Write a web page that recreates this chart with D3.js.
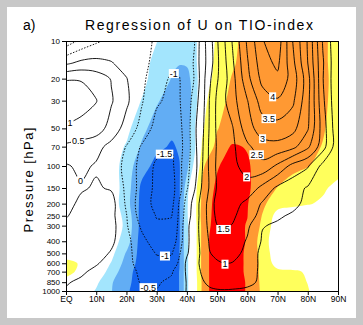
<!DOCTYPE html>
<html>
<head>
<meta charset="utf-8">
<title>Regression of U on TIO-index</title>
<script src="https://cdn.jsdelivr.net/npm/d3@7/dist/d3.min.js"></script>
<style>
  body { margin: 0; background: #fff; }
  svg text { font-family: "Liberation Sans", Arial, sans-serif; fill: #000; }
</style>
</head>
<body>
<svg id="chart" width="363" height="325"></svg>
<script>
// grid columns (deg N) and rows (hPa, top row first)
const lats = [0, 5, 10, 15, 20, 25, 30, 35, 37.5, 40, 42.5, 45, 47.5, 50, 52.5, 55, 60, 65, 70, 75, 80, 85, 90];
const levels = [10, 15, 20, 30, 50, 70, 100, 150, 200, 250, 300, 400, 500, 600, 700, 850, 1000];

// regression coefficient of zonal wind (m/s per index unit)
const uRegression = [
  [-1.3, -0.88, -0.58, -0.38, -0.3, -0.38, -0.55, -0.8, -0.8, -0.7, -0.52, 0.3, 0.75, 1.45, 1.98, 2.52, 3.58, 4.47, 4.8, 3.5, 2.45, 0.95, 0.05],
  [-0.1, 0.12, 0.15, 0.03, -0.2, -0.4, -0.6, -0.85, -0.85, -0.75, -0.45, 0.3, 0.7, 1.4, 1.9, 2.4, 3.45, 4.3, 4.6, 3.65, 2.5, 1.05, 0.05],
  [0.97, 0.97, 0.78, 0.47, 0.02, -0.4, -0.75, -1.08, -1.02, -0.75, -0.48, 0.25, 0.9, 1.45, 1.85, 2.3, 3.35, 4.15, 4.4, 3.8, 2.7, 1.02, 0.05],
  [1.3, 1.2, 1.02, 0.55, 0.1, -0.45, -0.92, -1.15, -1.02, -0.85, -0.225, 0.25, 1.02, 1.6, 1.95, 2.3, 2.98, 3.75, 3.95, 3.6, 2.65, 1.1, 0.05],
  [0.95, 0.85, 0.75, 0.3, -0.2, -0.65, -1.2, -1.35, -1.1, -0.8, -0.1, 0.35, 1.05, 1.6, 1.75, 1.95, 2.8, 3.25, 3.3, 3.15, 2.55, 1.25, 0.1],
  [0.4, 0.3, 0.15, -0.15, -0.52, -1.05, -1.35, -1.45, -1.15, -0.8, -0.15, 0.4, 1.1, 1.55, 1.7, 1.9, 2.4, 2.8, 2.85, 2.65, 2.1, 1.2, 0.15],
  [-0.05, 0.1, -0.05, -0.3, -0.6, -1.2, -1.58, -1.62, -1.15, -0.65, -0.22, 0.45, 1.1, 1.6, 1.75, 1.9, 2.15, 2.35, 1.9, 1.33, 1.05, 0.35, 0.05],
  [-0.15, -0.05, 0.05, -0.05, -0.6, -1.2, -1.62, -1.7, -1.2, -0.55, -0.05, 0.55, 1.05, 1.55, 1.65, 1.75, 1.85, 1.35, 0.9, 0.7, 0.45, 0.25, 0.1],
  [-0.15, 0.1, 0.15, 0.2, -0.58, -1.3, -1.62, -1.65, -0.95, -0.3, 0.2, 0.7, 1.2, 1.7, 1.75, 1.72, 1.35, 0.95, 0.8, 0.6, 0.4, 0.25, 0.1],
  [-0.03, 0.15, 0.2, 0.15, -0.48, -1.25, -1.52, -1.51, -0.9, -0.2, 0.2, 0.7, 1.2, 1.62, 1.65, 1.6, 1.2, 0.85, 0.55, 0.45, 0.35, 0.25, 0.1],
  [0.08, 0.2, 0.25, 0.2, -0.45, -1.08, -1.45, -1.45, -0.85, -0.1, 0.25, 0.7, 1.15, 1.49, 1.55, 1.48, 1.1, 0.52, 0.45, 0.4, 0.32, 0.25, 0.1],
  [0.2, 0.25, 0.25, 0.1, -0.35, -0.85, -1.25, -1.3, -0.75, -0.1, 0.25, 0.65, 1.05, 1.3, 1.35, 1.3, 0.95, 0.45, 0.35, 0.3, 0.25, 0.2, 0.1],
  [0.25, 0.28, 0.2, -0.05, -0.38, -0.7, -1.03, -1.03, -0.55, -0.05, 0.25, 0.6, 0.98, 1.1, 1.15, 1.1, 0.92, 0.32, 0.3, 0.28, 0.25, 0.2, 0.1],
  [0.3, 0.25, 0.06, -0.25, -0.42, -0.6, -0.85, -0.85, -0.4, 0.1, 0.35, 0.6, 0.85, 0.95, 1.01, 0.99, 0.75, 0.39, 0.3, 0.27, 0.25, 0.2, 0.1],
  [0.28, 0.1, -0.15, -0.3, -0.4, -0.55, -0.7, -0.55, -0.2, 0.05, 0.3, 0.55, 0.75, 0.85, 0.9, 0.88, 0.7, 0.4, 0.32, 0.28, 0.25, 0.2, 0.1],
  [0.05, -0.1, -0.2, -0.3, -0.38, -0.52, -0.55, -0.4, -0.18, 0.02, 0.25, 0.45, 0.6, 0.7, 0.72, 0.7, 0.6, 0.42, 0.32, 0.28, 0.25, 0.2, 0.1],
  [-0.05, -0.1, -0.2, -0.3, -0.35, -0.45, -0.48, -0.3, -0.15, 0.02, 0.2, 0.35, 0.42, 0.45, 0.46, 0.45, 0.42, 0.35, 0.3, 0.27, 0.25, 0.2, 0.1]
];

// signed significance class of the regression (1 = 90%, 2 = 95%, 3 = 99%)
const signif = [
  [-0.3, -0.3, -0.3, -0.3, -0.4, -0.6, -0.98, -1.5, -1.6, -1.6, -1.15, -0.68, 0.3, 1.3, 1.6, 1.8, 2.3, 2.5, 2.5, 2.5, 2.4, 2.2, 1.6],
  [-0.3, -0.3, -0.3, -0.3, -0.45, -0.75, -1.2, -1.8, -1.95, -1.9, -1.2, -0.6, 0.6, 1.4, 1.75, 1.9, 2.3, 2.5, 2.5, 2.5, 2.4, 2.2, 1.6],
  [-0.3, -0.3, -0.3, -0.3, -0.5, -0.8, -1.28, -2.05, -2.3, -2.3, -1.6, -0.2, 0.8, 1.5, 1.8, 2.05, 2.4, 2.6, 2.6, 2.6, 2.5, 2.25, 1.6],
  [-0.3, -0.3, -0.3, -0.3, -0.6, -1.02, -1.9, -2.4, -2.5, -2.4, -1.7, 0.3, 1.3, 1.7, 1.95, 2.2, 2.5, 2.7, 2.7, 2.7, 2.6, 2.2, 1.6],
  [-0.3, -0.3, -0.3, -0.3, -0.7, -1.75, -2.4, -2.8, -2.85, -2.5, -1.2, 0.8, 1.6, 1.95, 2.2, 2.4, 2.7, 2.8, 2.8, 2.8, 2.7, 2.1, 1.5],
  [-0.3, -0.3, -0.3, -0.5, -1.1, -2.1, -2.8, -3.1, -2.9, -2.5, -1.3, 1.1, 1.7, 2.25, 2.8, 3.1, 2.95, 2.6, 2.5, 2.5, 2.3, 1.95, 1.5],
  [-0.3, -0.3, -0.3, -0.45, -1.5, -2.6, -3.3, -3.4, -3.05, -2.3, -0.7, 1.8, 2.4, 2.9, 3.2, 3.4, 3.1, 2.6, 2.4, 2.3, 2.05, 1.7, 1.3],
  [-0.3, -0.3, -0.3, -0.4, -1.5, -3.2, -3.6, -3.6, -3.1, -1.5, 0.5, 2.1, 2.7, 3.2, 3.4, 3.4, 3.2, 2.3, 1.98, 1.5, 1.3, 1.1, 0.8],
  [-0.3, -0.3, -0.3, -0.4, -1.6, -3.3, -3.7, -3.6, -3.1, -1.2, 0.6, 2.2, 2.85, 3.3, 3.4, 3.4, 3.05, 2.2, 1.4, 1.2, 1.05, 0.9, 0.6],
  [-0.3, -0.3, -0.3, -0.4, -1.3, -3.4, -3.7, -3.6, -3.1, -1.2, 0.6, 2.3, 2.9, 3.3, 3.4, 3.35, 3.02, 1.95, 0.6, 0.5, 0.5, 0.4, 0.3],
  [-0.3, -0.3, -0.3, -0.4, -1.2, -3.4, -3.7, -3.6, -3.1, -1.3, 0.5, 2.2, 2.95, 3.3, 3.4, 3.3, 2.95, 1.8, 0.4, 0.4, 0.4, 0.35, 0.3],
  [-0.3, -0.3, -0.3, -0.5, -1.5, -3.5, -3.7, -3.6, -3.1, -1.3, 0.5, 2.2, 3.05, 3.3, 3.4, 3.3, 2.95, 1.5, 0.3, 0.3, 0.3, 0.3, 0.25],
  [0.5, 0.3, -0.3, -0.7, -2.1, -3.4, -3.6, -3.5, -3.02, -1.3, 0.5, 2.2, 3.05, 3.3, 3.4, 3.3, 2.9, 1.6, 0.4, 0.3, 0.3, 0.3, 0.25],
  [1.3, 0.9, -0.2, -1.05, -2.4, -3.4, -3.6, -3.5, -3.05, -1.3, 0.5, 2.2, 3.05, 3.3, 3.4, 3.3, 2.9, 1.7, 0.6, 0.4, 0.3, 0.3, 0.25],
  [1.2, 0.85, -0.3, -1.4, -2.7, -3.4, -3.6, -3.5, -2.98, -1.3, 0.5, 2.2, 3.05, 3.3, 3.4, 3.3, 2.9, 1.7, 1.2, 1.15, 0.9, 0.5, 0.3],
  [0.8, 0.2, -0.8, -1.9, -2.8, -3.4, -3.5, -3.5, -2.98, -1.3, 0.4, 2.1, 3.05, 3.3, 3.4, 3.3, 2.95, 1.75, 1.4, 1.3, 0.98, 0.6, 0.3],
  [-0.1, -0.3, -1.1, -1.95, -2.9, -3.4, -3.5, -3.5, -2.98, -1.3, 0.4, 2.1, 3.05, 3.3, 3.4, 3.3, 2.95, 1.8, 1.5, 1.35, 1.05, 0.6, 0.3]
];

const lineLevels = [-1.5, -1, -0.5, 0, 0.5, 1, 1.5, 2, 2.5, 3, 3.5, 4, 4.5];
const shadeLevels = [1, 2, 3];
const negColors = ["#a3e5fd", "#62adf4", "#1464ef"];
const posColors = ["#ffff5c", "#ff9933", "#ff0000"];

const pTicks = [10, 20, 30, 50, 70, 100, 150, 200, 250, 300, 400, 500, 600, 700, 850, 1000];
const latTicks = [0, 10, 20, 30, 40, 50, 60, 70, 80, 90];
const latTickLabels = ["EQ", "10N", "20N", "30N", "40N", "50N", "60N", "70N", "80N", "90N"];

// where each contour label sits: level, lat, hPa
const contourLabels = [
  {level: -1, lat: 35.4, p: 19},
  {level: -1.5, lat: 32.8, p: 82},
  {level: -1, lat: 32.8, p: 487},
  {level: -0.5, lat: 27.1, p: 946},
  {level: 1, lat: 2, p: 48},
  {level: 0.5, lat: 4, p: 62},
  {level: 0, lat: 4.6, p: 132},
  {level: 4, lat: 67.5, p: 30},
  {level: 3.5, lat: 66.8, p: 44},
  {level: 3, lat: 65.2, p: 59},
  {level: 2.5, lat: 61.9, p: 85},
  {level: 2, lat: 59.9, p: 120},
  {level: 1.5, lat: 52.3, p: 313},
  {level: 1, lat: 52.6, p: 597}
];

const svg = d3.select("#chart");
const plot = {left: 66, right: 338, top: 41, bottom: 291};

const x = d3.scaleLinear().domain([0, 90]).range([plot.left, plot.right]);
const y = d3.scaleLog().domain([1000, 10]).range([plot.bottom, plot.top]);

// grey panel with white card
svg.append("rect").attr("width", 363).attr("height", 325).attr("fill", "#c8c8c8");
svg.append("rect").attr("x", 7).attr("y", 7).attr("width", 349).attr("height", 311).attr("fill", "#fff");

svg.append("clipPath").attr("id", "plotclip")
  .append("rect")
  .attr("x", plot.left).attr("y", plot.top)
  .attr("width", plot.right - plot.left).attr("height", plot.bottom - plot.top);

// grid index -> pixel (irregular grid, so piecewise scales)
const nx = lats.length, ny = levels.length;
const col = d3.scaleLinear().domain(d3.range(nx)).range(lats.map(x)).clamp(true);
const row = d3.scaleLinear().domain(d3.range(ny)).range(levels.map(y)).clamp(true);
const toPx = ([cx, cy]) => [col(cx - 0.5), row(cy - 0.5)];
const gen = d3.contours().size([nx, ny]);

function ringPoints(ring) {
  const pts = [];
  ring.forEach(p => {
    const q = toPx(p), last = pts[pts.length - 1];
    if (!last || Math.hypot(q[0] - last[0], q[1] - last[1]) > 0.05) pts.push(q);
  });
  while (pts.length > 1) {
    const a = pts[0], b = pts[pts.length - 1];
    if (Math.hypot(a[0] - b[0], a[1] - b[1]) > 0.05) break;
    pts.pop();
  }
  return pts;
}

function edgeMask([px, py]) {
  let m = 0;
  if (Math.abs(px - plot.left) < 0.01) m |= 1;
  if (Math.abs(px - plot.right) < 0.01) m |= 2;
  if (Math.abs(py - plot.top) < 0.01) m |= 4;
  if (Math.abs(py - plot.bottom) < 0.01) m |= 8;
  return m;
}

// split a ring into pieces inside the frame (curved) and pieces along the frame (straight)
function ringPieces(pts) {
  const n = pts.length, mask = pts.map(edgeMask);
  const inner = d3.range(n).map(k => (mask[k] & mask[(k + 1) % n]) === 0);
  const k0 = inner.indexOf(false);
  if (k0 < 0) return null;
  const pieces = [];
  let cur = null;
  for (let s = 1; s <= n; s++) {
    const k = (k0 + s) % n, a = pts[k], b = pts[(k + 1) % n];
    if (!cur || cur.curve !== inner[k]) {
      cur = {curve: inner[k], pts: [a]};
      pieces.push(cur);
    }
    cur.pts.push(b);
  }
  return pieces;
}

const openCurve = d3.line().curve(d3.curveCatmullRom.alpha(0.5));
const closedCurve = d3.line().curve(d3.curveCatmullRomClosed.alpha(0.5));

function fillPath(geom) {
  let d = "";
  geom.coordinates.forEach(poly => poly.forEach(ring => {
    const pts = ringPoints(ring);
    if (pts.length < 3) return;
    const pieces = ringPieces(pts);
    if (!pieces) { d += closedCurve(pts); return; }
    pieces.forEach((pc, i) => {
      let s = pc.curve ? openCurve(pc.pts) : "M" + pc.pts.map(q => q.join(",")).join("L");
      if (i > 0) s = "L" + s.slice(1);
      d += s;
    });
    d += "Z";
  }));
  return d;
}

function linePath(geom) {
  let d = "";
  geom.coordinates.forEach(poly => poly.forEach(ring => {
    const pts = ringPoints(ring);
    if (pts.length < 3) return;
    const pieces = ringPieces(pts);
    if (!pieces) { d += closedCurve(pts); return; }
    pieces.filter(pc => pc.curve).forEach(pc => { d += openCurve(pc.pts); });
  }));
  return d;
}

// shading
const shade = svg.append("g").attr("clip-path", "url(#plotclip)");
const posValues = signif.flat();
const negValues = posValues.map(v => -v);
shadeLevels.forEach((t, i) => {
  shade.append("path")
    .attr("d", fillPath(gen.contour(negValues, t)))
    .attr("fill", negColors[i]).attr("fill-rule", "evenodd");
  shade.append("path")
    .attr("d", fillPath(gen.contour(posValues, t)))
    .attr("fill", posColors[i]).attr("fill-rule", "evenodd");
});

// contour lines, dotted below zero
const lines = svg.append("g").attr("clip-path", "url(#plotclip)");
const uValues = uRegression.flat();
lineLevels.forEach(t => {
  lines.append("path")
    .datum(t)
    .attr("d", linePath(gen.contour(uValues, t)))
    .attr("fill", "none")
    .attr("stroke", "#000")
    .attr("stroke-width", 0.9)
    .attr("stroke-dasharray", t < 0 ? "1.5,1.5" : null);
});

// labels snapped onto their contour
const labels = svg.append("g");
contourLabels.forEach(lab => {
  const path = lines.selectAll("path").filter(d => d === lab.level).node();
  const ax = x(lab.lat), ay = y(lab.p);
  const len = path.getTotalLength();
  let best = {x: ax, y: ay}, bd = Infinity;
  for (let s = 0; s <= len; s += 0.5) {
    const pt = path.getPointAtLength(s);
    const dd = (pt.x - ax) ** 2 + (pt.y - ay) ** 2;
    if (dd < bd) { bd = dd; best = pt; }
  }
  const g = labels.append("g").attr("transform", `translate(${best.x},${best.y})`);
  const rect = g.append("rect").attr("fill", "#fff");
  const txt = g.append("text")
    .attr("text-anchor", "middle")
    .attr("dy", "0.35em")
    .attr("font-size", 9)
    .text(String(lab.level));
  const bb = txt.node().getBBox();
  rect.attr("x", bb.x - 1).attr("y", bb.y + 0.5).attr("width", bb.width + 2).attr("height", bb.height - 1);
});

// axes
const yAxis = svg.append("g")
  .attr("transform", `translate(${plot.left},0)`)
  .call(d3.axisLeft(y).tickValues(pTicks).tickFormat(d3.format("d")).tickSize(4).tickPadding(2));
yAxis.select(".domain").remove();
yAxis.attr("font-family", "Liberation Sans, Arial, sans-serif").attr("font-size", 8);

const xAxis = svg.append("g")
  .attr("transform", `translate(0,${plot.bottom})`)
  .call(d3.axisBottom(x).tickValues(latTicks).tickFormat((d, i) => latTickLabels[i]).tickSize(4).tickPadding(1));
xAxis.select(".domain").remove();
xAxis.attr("font-family", "Liberation Sans, Arial, sans-serif").attr("font-size", 8.5);

svg.append("rect")
  .attr("x", plot.left).attr("y", plot.top)
  .attr("width", plot.right - plot.left).attr("height", plot.bottom - plot.top)
  .attr("fill", "none").attr("stroke", "#000").attr("stroke-width", 1)
  .attr("shape-rendering", "crispEdges");

// titles
svg.append("text").attr("x", 23).attr("y", 30).attr("font-size", 14).text("a)");
svg.append("text")
  .attr("x", 85).attr("y", 30)
  .attr("font-size", 14)
  .attr("textLength", 228).attr("lengthAdjust", "spacing")
  .text("Regression of U on TIO-index");
svg.append("text")
  .attr("transform", "translate(33,180) rotate(-90)")
  .attr("text-anchor", "middle")
  .attr("font-size", 13)
  .attr("textLength", 105).attr("lengthAdjust", "spacing")
  .text("Pressure [hPa]");
</script>
</body>
</html>
